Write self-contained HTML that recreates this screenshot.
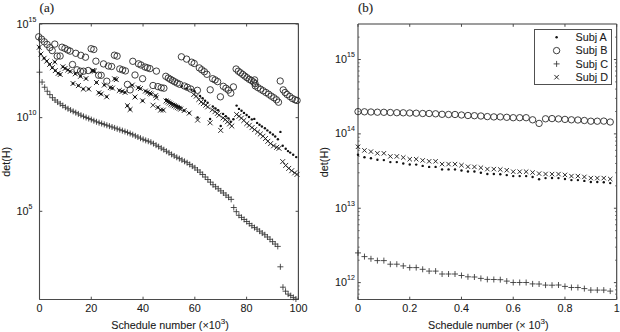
<!DOCTYPE html>
<html><head><meta charset="utf-8"><style>
html,body{margin:0;padding:0;background:#fff;}
svg{display:block;}
.t{font-family:"Liberation Sans",sans-serif;font-size:10.8px;fill:#1a1a1a;stroke:#1a1a1a;stroke-width:0.08px;}
.s{font-size:7px;}
.s2{font-size:8px;}
.p{font-family:"Liberation Serif",serif;font-size:13px;fill:#1a1a1a;stroke:#1a1a1a;stroke-width:0.12px;}
</style></head><body>
<svg width="620" height="332" viewBox="0 0 620 332">
<line x1="39.5" y1="23.7" x2="39.5" y2="299.5" stroke="#4a4a4a" stroke-width="1.1"/>
<line x1="39.5" y1="299.5" x2="298.4" y2="299.5" stroke="#4a4a4a" stroke-width="1.1"/>
<line x1="39.5" y1="23.7" x2="298.4" y2="23.7" stroke="#454545" stroke-width="1.2"/>
<line x1="298.4" y1="23.7" x2="298.4" y2="299.5" stroke="#454545" stroke-width="1.15"/>
<line x1="358.0" y1="24.0" x2="358.0" y2="299.5" stroke="#3c3c3c" stroke-width="1.05"/>
<line x1="358.0" y1="299.5" x2="616.7" y2="299.5" stroke="#4a4a4a" stroke-width="1.1"/>
<line x1="358.0" y1="24.0" x2="616.7" y2="24.0" stroke="#3c3c3c" stroke-width="1.05"/>
<line x1="616.7" y1="24.0" x2="616.7" y2="299.5" stroke="#3c3c3c" stroke-width="1.1"/>
<line x1="39.50" y1="299.5" x2="39.50" y2="296.7" stroke="#4a4a4a"/>
<line x1="39.50" y1="23.7" x2="39.50" y2="26.5" stroke="#4a4a4a"/>
<text x="39.50" y="311.5" class="t" text-anchor="middle">0</text>
<line x1="91.28" y1="299.5" x2="91.28" y2="296.7" stroke="#4a4a4a"/>
<line x1="91.28" y1="23.7" x2="91.28" y2="26.5" stroke="#4a4a4a"/>
<text x="91.28" y="311.5" class="t" text-anchor="middle">20</text>
<line x1="143.06" y1="299.5" x2="143.06" y2="296.7" stroke="#4a4a4a"/>
<line x1="143.06" y1="23.7" x2="143.06" y2="26.5" stroke="#4a4a4a"/>
<text x="143.06" y="311.5" class="t" text-anchor="middle">40</text>
<line x1="194.84" y1="299.5" x2="194.84" y2="296.7" stroke="#4a4a4a"/>
<line x1="194.84" y1="23.7" x2="194.84" y2="26.5" stroke="#4a4a4a"/>
<text x="194.84" y="311.5" class="t" text-anchor="middle">60</text>
<line x1="246.62" y1="299.5" x2="246.62" y2="296.7" stroke="#4a4a4a"/>
<line x1="246.62" y1="23.7" x2="246.62" y2="26.5" stroke="#4a4a4a"/>
<text x="246.62" y="311.5" class="t" text-anchor="middle">80</text>
<line x1="298.40" y1="299.5" x2="298.40" y2="296.7" stroke="#4a4a4a"/>
<line x1="298.40" y1="23.7" x2="298.40" y2="26.5" stroke="#4a4a4a"/>
<text x="298.40" y="311.5" class="t" text-anchor="middle">100</text>
<line x1="39.5" y1="24.00" x2="42.3" y2="24.00" stroke="#4a4a4a"/>
<line x1="298.4" y1="24.00" x2="295.59999999999997" y2="24.00" stroke="#4a4a4a"/>
<text x="16.6" y="27.60" class="t">10<tspan class="s" dy="-6">15</tspan></text>
<line x1="39.5" y1="117.65" x2="42.3" y2="117.65" stroke="#4a4a4a"/>
<line x1="298.4" y1="117.65" x2="295.59999999999997" y2="117.65" stroke="#4a4a4a"/>
<text x="16.6" y="121.25" class="t">10<tspan class="s" dy="-6">10</tspan></text>
<line x1="39.5" y1="211.30" x2="42.3" y2="211.30" stroke="#4a4a4a"/>
<line x1="298.4" y1="211.30" x2="295.59999999999997" y2="211.30" stroke="#4a4a4a"/>
<text x="16.6" y="214.90" class="t">10<tspan class="s" dy="-6">5</tspan></text>
<line x1="358.00" y1="299.5" x2="358.00" y2="296.7" stroke="#4a4a4a"/>
<line x1="358.00" y1="24.0" x2="358.00" y2="26.8" stroke="#4a4a4a"/>
<text x="358.00" y="311.5" class="t" text-anchor="middle">0</text>
<line x1="409.74" y1="299.5" x2="409.74" y2="296.7" stroke="#4a4a4a"/>
<line x1="409.74" y1="24.0" x2="409.74" y2="26.8" stroke="#4a4a4a"/>
<text x="409.74" y="311.5" class="t" text-anchor="middle">0.2</text>
<line x1="461.48" y1="299.5" x2="461.48" y2="296.7" stroke="#4a4a4a"/>
<line x1="461.48" y1="24.0" x2="461.48" y2="26.8" stroke="#4a4a4a"/>
<text x="461.48" y="311.5" class="t" text-anchor="middle">0.4</text>
<line x1="513.22" y1="299.5" x2="513.22" y2="296.7" stroke="#4a4a4a"/>
<line x1="513.22" y1="24.0" x2="513.22" y2="26.8" stroke="#4a4a4a"/>
<text x="513.22" y="311.5" class="t" text-anchor="middle">0.6</text>
<line x1="564.96" y1="299.5" x2="564.96" y2="296.7" stroke="#4a4a4a"/>
<line x1="564.96" y1="24.0" x2="564.96" y2="26.8" stroke="#4a4a4a"/>
<text x="564.96" y="311.5" class="t" text-anchor="middle">0.8</text>
<line x1="616.70" y1="299.5" x2="616.70" y2="296.7" stroke="#4a4a4a"/>
<line x1="616.70" y1="24.0" x2="616.70" y2="26.8" stroke="#4a4a4a"/>
<text x="616.70" y="311.5" class="t" text-anchor="middle">1</text>
<line x1="358.0" y1="59.50" x2="360.8" y2="59.50" stroke="#4a4a4a"/>
<line x1="616.7" y1="59.50" x2="613.9000000000001" y2="59.50" stroke="#4a4a4a"/>
<text x="335.0" y="63.10" class="t">10<tspan class="s" dy="-6">15</tspan></text>
<line x1="358.0" y1="133.87" x2="360.8" y2="133.87" stroke="#4a4a4a"/>
<line x1="616.7" y1="133.87" x2="613.9000000000001" y2="133.87" stroke="#4a4a4a"/>
<text x="335.0" y="137.47" class="t">10<tspan class="s" dy="-6">14</tspan></text>
<line x1="358.0" y1="208.24" x2="360.8" y2="208.24" stroke="#4a4a4a"/>
<line x1="616.7" y1="208.24" x2="613.9000000000001" y2="208.24" stroke="#4a4a4a"/>
<text x="335.0" y="211.84" class="t">10<tspan class="s" dy="-6">13</tspan></text>
<line x1="358.0" y1="282.61" x2="360.8" y2="282.61" stroke="#4a4a4a"/>
<line x1="616.7" y1="282.61" x2="613.9000000000001" y2="282.61" stroke="#4a4a4a"/>
<text x="335.0" y="286.21" class="t">10<tspan class="s" dy="-6">12</tspan></text>
<line x1="358.0" y1="294.13" x2="359.6" y2="294.13" stroke="#4a4a4a" stroke-width="0.8"/>
<line x1="616.7" y1="294.13" x2="615.1" y2="294.13" stroke="#4a4a4a" stroke-width="0.8"/>
<line x1="358.0" y1="289.82" x2="359.6" y2="289.82" stroke="#4a4a4a" stroke-width="0.8"/>
<line x1="616.7" y1="289.82" x2="615.1" y2="289.82" stroke="#4a4a4a" stroke-width="0.8"/>
<line x1="358.0" y1="286.01" x2="359.6" y2="286.01" stroke="#4a4a4a" stroke-width="0.8"/>
<line x1="616.7" y1="286.01" x2="615.1" y2="286.01" stroke="#4a4a4a" stroke-width="0.8"/>
<line x1="358.0" y1="260.22" x2="359.6" y2="260.22" stroke="#4a4a4a" stroke-width="0.8"/>
<line x1="616.7" y1="260.22" x2="615.1" y2="260.22" stroke="#4a4a4a" stroke-width="0.8"/>
<line x1="358.0" y1="247.13" x2="359.6" y2="247.13" stroke="#4a4a4a" stroke-width="0.8"/>
<line x1="616.7" y1="247.13" x2="615.1" y2="247.13" stroke="#4a4a4a" stroke-width="0.8"/>
<line x1="358.0" y1="237.83" x2="359.6" y2="237.83" stroke="#4a4a4a" stroke-width="0.8"/>
<line x1="616.7" y1="237.83" x2="615.1" y2="237.83" stroke="#4a4a4a" stroke-width="0.8"/>
<line x1="358.0" y1="230.63" x2="359.6" y2="230.63" stroke="#4a4a4a" stroke-width="0.8"/>
<line x1="616.7" y1="230.63" x2="615.1" y2="230.63" stroke="#4a4a4a" stroke-width="0.8"/>
<line x1="358.0" y1="224.74" x2="359.6" y2="224.74" stroke="#4a4a4a" stroke-width="0.8"/>
<line x1="616.7" y1="224.74" x2="615.1" y2="224.74" stroke="#4a4a4a" stroke-width="0.8"/>
<line x1="358.0" y1="219.76" x2="359.6" y2="219.76" stroke="#4a4a4a" stroke-width="0.8"/>
<line x1="616.7" y1="219.76" x2="615.1" y2="219.76" stroke="#4a4a4a" stroke-width="0.8"/>
<line x1="358.0" y1="215.45" x2="359.6" y2="215.45" stroke="#4a4a4a" stroke-width="0.8"/>
<line x1="616.7" y1="215.45" x2="615.1" y2="215.45" stroke="#4a4a4a" stroke-width="0.8"/>
<line x1="358.0" y1="211.64" x2="359.6" y2="211.64" stroke="#4a4a4a" stroke-width="0.8"/>
<line x1="616.7" y1="211.64" x2="615.1" y2="211.64" stroke="#4a4a4a" stroke-width="0.8"/>
<line x1="358.0" y1="185.85" x2="359.6" y2="185.85" stroke="#4a4a4a" stroke-width="0.8"/>
<line x1="616.7" y1="185.85" x2="615.1" y2="185.85" stroke="#4a4a4a" stroke-width="0.8"/>
<line x1="358.0" y1="172.76" x2="359.6" y2="172.76" stroke="#4a4a4a" stroke-width="0.8"/>
<line x1="616.7" y1="172.76" x2="615.1" y2="172.76" stroke="#4a4a4a" stroke-width="0.8"/>
<line x1="358.0" y1="163.46" x2="359.6" y2="163.46" stroke="#4a4a4a" stroke-width="0.8"/>
<line x1="616.7" y1="163.46" x2="615.1" y2="163.46" stroke="#4a4a4a" stroke-width="0.8"/>
<line x1="358.0" y1="156.26" x2="359.6" y2="156.26" stroke="#4a4a4a" stroke-width="0.8"/>
<line x1="616.7" y1="156.26" x2="615.1" y2="156.26" stroke="#4a4a4a" stroke-width="0.8"/>
<line x1="358.0" y1="150.37" x2="359.6" y2="150.37" stroke="#4a4a4a" stroke-width="0.8"/>
<line x1="616.7" y1="150.37" x2="615.1" y2="150.37" stroke="#4a4a4a" stroke-width="0.8"/>
<line x1="358.0" y1="145.39" x2="359.6" y2="145.39" stroke="#4a4a4a" stroke-width="0.8"/>
<line x1="616.7" y1="145.39" x2="615.1" y2="145.39" stroke="#4a4a4a" stroke-width="0.8"/>
<line x1="358.0" y1="141.08" x2="359.6" y2="141.08" stroke="#4a4a4a" stroke-width="0.8"/>
<line x1="616.7" y1="141.08" x2="615.1" y2="141.08" stroke="#4a4a4a" stroke-width="0.8"/>
<line x1="358.0" y1="137.27" x2="359.6" y2="137.27" stroke="#4a4a4a" stroke-width="0.8"/>
<line x1="616.7" y1="137.27" x2="615.1" y2="137.27" stroke="#4a4a4a" stroke-width="0.8"/>
<line x1="358.0" y1="111.48" x2="359.6" y2="111.48" stroke="#4a4a4a" stroke-width="0.8"/>
<line x1="616.7" y1="111.48" x2="615.1" y2="111.48" stroke="#4a4a4a" stroke-width="0.8"/>
<line x1="358.0" y1="98.39" x2="359.6" y2="98.39" stroke="#4a4a4a" stroke-width="0.8"/>
<line x1="616.7" y1="98.39" x2="615.1" y2="98.39" stroke="#4a4a4a" stroke-width="0.8"/>
<line x1="358.0" y1="89.09" x2="359.6" y2="89.09" stroke="#4a4a4a" stroke-width="0.8"/>
<line x1="616.7" y1="89.09" x2="615.1" y2="89.09" stroke="#4a4a4a" stroke-width="0.8"/>
<line x1="358.0" y1="81.89" x2="359.6" y2="81.89" stroke="#4a4a4a" stroke-width="0.8"/>
<line x1="616.7" y1="81.89" x2="615.1" y2="81.89" stroke="#4a4a4a" stroke-width="0.8"/>
<line x1="358.0" y1="76.00" x2="359.6" y2="76.00" stroke="#4a4a4a" stroke-width="0.8"/>
<line x1="616.7" y1="76.00" x2="615.1" y2="76.00" stroke="#4a4a4a" stroke-width="0.8"/>
<line x1="358.0" y1="71.02" x2="359.6" y2="71.02" stroke="#4a4a4a" stroke-width="0.8"/>
<line x1="616.7" y1="71.02" x2="615.1" y2="71.02" stroke="#4a4a4a" stroke-width="0.8"/>
<line x1="358.0" y1="66.71" x2="359.6" y2="66.71" stroke="#4a4a4a" stroke-width="0.8"/>
<line x1="616.7" y1="66.71" x2="615.1" y2="66.71" stroke="#4a4a4a" stroke-width="0.8"/>
<line x1="358.0" y1="62.90" x2="359.6" y2="62.90" stroke="#4a4a4a" stroke-width="0.8"/>
<line x1="616.7" y1="62.90" x2="615.1" y2="62.90" stroke="#4a4a4a" stroke-width="0.8"/>
<line x1="358.0" y1="37.11" x2="359.6" y2="37.11" stroke="#4a4a4a" stroke-width="0.8"/>
<line x1="616.7" y1="37.11" x2="615.1" y2="37.11" stroke="#4a4a4a" stroke-width="0.8"/>
<text x="39.6" y="11.6" class="p">(a)</text>
<text x="358.0" y="12.2" class="p">(b)</text>
<text transform="translate(10.3,161.8) rotate(-90)" class="t" text-anchor="middle">det(H)</text>
<text transform="translate(328.2,162.2) rotate(-90)" class="t" text-anchor="middle">det(H)</text>
<text x="111.2" y="328.8" class="t">Schedule number (&#215;10<tspan class="s2" dy="-4.6">3</tspan><tspan dy="4.6">)</tspan></text>
<text x="428.0" y="328.8" class="t">Schedule number (&#215; 10<tspan class="s2" dy="-4.6">3</tspan><tspan dy="4.6">)</tspan></text>
<circle cx="358.00" cy="111.60" r="3.2" fill="none" stroke="#2a2a2a" stroke-width="0.9"/>
<circle cx="364.47" cy="111.80" r="3.2" fill="none" stroke="#2a2a2a" stroke-width="0.9"/>
<circle cx="370.94" cy="112.00" r="3.2" fill="none" stroke="#2a2a2a" stroke-width="0.9"/>
<circle cx="377.40" cy="112.20" r="3.2" fill="none" stroke="#2a2a2a" stroke-width="0.9"/>
<circle cx="383.87" cy="112.30" r="3.2" fill="none" stroke="#2a2a2a" stroke-width="0.9"/>
<circle cx="390.34" cy="112.50" r="3.2" fill="none" stroke="#2a2a2a" stroke-width="0.9"/>
<circle cx="396.81" cy="112.70" r="3.2" fill="none" stroke="#2a2a2a" stroke-width="0.9"/>
<circle cx="403.27" cy="112.80" r="3.2" fill="none" stroke="#2a2a2a" stroke-width="0.9"/>
<circle cx="409.74" cy="113.00" r="3.2" fill="none" stroke="#2a2a2a" stroke-width="0.9"/>
<circle cx="416.21" cy="113.20" r="3.2" fill="none" stroke="#2a2a2a" stroke-width="0.9"/>
<circle cx="422.68" cy="113.50" r="3.2" fill="none" stroke="#2a2a2a" stroke-width="0.9"/>
<circle cx="429.14" cy="113.50" r="3.2" fill="none" stroke="#2a2a2a" stroke-width="0.9"/>
<circle cx="435.61" cy="113.80" r="3.2" fill="none" stroke="#2a2a2a" stroke-width="0.9"/>
<circle cx="442.08" cy="114.30" r="3.2" fill="none" stroke="#2a2a2a" stroke-width="0.9"/>
<circle cx="448.55" cy="114.50" r="3.2" fill="none" stroke="#2a2a2a" stroke-width="0.9"/>
<circle cx="455.01" cy="114.50" r="3.2" fill="none" stroke="#2a2a2a" stroke-width="0.9"/>
<circle cx="461.48" cy="115.00" r="3.2" fill="none" stroke="#2a2a2a" stroke-width="0.9"/>
<circle cx="467.95" cy="115.50" r="3.2" fill="none" stroke="#2a2a2a" stroke-width="0.9"/>
<circle cx="474.42" cy="115.70" r="3.2" fill="none" stroke="#2a2a2a" stroke-width="0.9"/>
<circle cx="480.88" cy="116.00" r="3.2" fill="none" stroke="#2a2a2a" stroke-width="0.9"/>
<circle cx="487.35" cy="116.60" r="3.2" fill="none" stroke="#2a2a2a" stroke-width="0.9"/>
<circle cx="493.82" cy="116.90" r="3.2" fill="none" stroke="#2a2a2a" stroke-width="0.9"/>
<circle cx="500.29" cy="116.90" r="3.2" fill="none" stroke="#2a2a2a" stroke-width="0.9"/>
<circle cx="506.75" cy="117.30" r="3.2" fill="none" stroke="#2a2a2a" stroke-width="0.9"/>
<circle cx="513.22" cy="117.70" r="3.2" fill="none" stroke="#2a2a2a" stroke-width="0.9"/>
<circle cx="519.69" cy="117.70" r="3.2" fill="none" stroke="#2a2a2a" stroke-width="0.9"/>
<circle cx="526.15" cy="117.70" r="3.2" fill="none" stroke="#2a2a2a" stroke-width="0.9"/>
<circle cx="532.62" cy="119.80" r="3.2" fill="none" stroke="#2a2a2a" stroke-width="0.9"/>
<circle cx="539.09" cy="123.40" r="3.2" fill="none" stroke="#2a2a2a" stroke-width="0.9"/>
<circle cx="545.56" cy="118.80" r="3.2" fill="none" stroke="#2a2a2a" stroke-width="0.9"/>
<circle cx="552.03" cy="118.60" r="3.2" fill="none" stroke="#2a2a2a" stroke-width="0.9"/>
<circle cx="558.49" cy="118.90" r="3.2" fill="none" stroke="#2a2a2a" stroke-width="0.9"/>
<circle cx="564.96" cy="119.40" r="3.2" fill="none" stroke="#2a2a2a" stroke-width="0.9"/>
<circle cx="571.43" cy="119.80" r="3.2" fill="none" stroke="#2a2a2a" stroke-width="0.9"/>
<circle cx="577.90" cy="120.00" r="3.2" fill="none" stroke="#2a2a2a" stroke-width="0.9"/>
<circle cx="584.36" cy="120.50" r="3.2" fill="none" stroke="#2a2a2a" stroke-width="0.9"/>
<circle cx="590.83" cy="121.20" r="3.2" fill="none" stroke="#2a2a2a" stroke-width="0.9"/>
<circle cx="597.30" cy="121.20" r="3.2" fill="none" stroke="#2a2a2a" stroke-width="0.9"/>
<circle cx="603.77" cy="121.10" r="3.2" fill="none" stroke="#2a2a2a" stroke-width="0.9"/>
<circle cx="610.23" cy="122.00" r="3.2" fill="none" stroke="#2a2a2a" stroke-width="0.9"/>
<path d="M355.80 144.60L360.20 149.00M355.80 149.00L360.20 144.60" stroke="#1a1a1a" stroke-width="0.92"/>
<path d="M362.27 148.20L366.67 152.60M362.27 152.60L366.67 148.20" stroke="#1a1a1a" stroke-width="0.92"/>
<path d="M368.74 149.40L373.13 153.80M368.74 153.80L373.13 149.40" stroke="#1a1a1a" stroke-width="0.92"/>
<path d="M375.20 151.10L379.60 155.50M375.20 155.50L379.60 151.10" stroke="#1a1a1a" stroke-width="0.92"/>
<path d="M381.67 151.10L386.07 155.50M381.67 155.50L386.07 151.10" stroke="#1a1a1a" stroke-width="0.92"/>
<path d="M388.14 154.20L392.54 158.60M388.14 158.60L392.54 154.20" stroke="#1a1a1a" stroke-width="0.92"/>
<path d="M394.61 154.20L399.00 158.60M394.61 158.60L399.00 154.20" stroke="#1a1a1a" stroke-width="0.92"/>
<path d="M401.07 155.30L405.47 159.70M401.07 159.70L405.47 155.30" stroke="#1a1a1a" stroke-width="0.92"/>
<path d="M407.54 157.00L411.94 161.40M407.54 161.40L411.94 157.00" stroke="#1a1a1a" stroke-width="0.92"/>
<path d="M414.01 157.00L418.41 161.40M414.01 161.40L418.41 157.00" stroke="#1a1a1a" stroke-width="0.92"/>
<path d="M420.48 158.20L424.88 162.60M420.48 162.60L424.88 158.20" stroke="#1a1a1a" stroke-width="0.92"/>
<path d="M426.94 159.10L431.34 163.50M426.94 163.50L431.34 159.10" stroke="#1a1a1a" stroke-width="0.92"/>
<path d="M433.41 159.10L437.81 163.50M433.41 163.50L437.81 159.10" stroke="#1a1a1a" stroke-width="0.92"/>
<path d="M439.88 161.90L444.28 166.30M439.88 166.30L444.28 161.90" stroke="#1a1a1a" stroke-width="0.92"/>
<path d="M446.35 161.90L450.75 166.30M446.35 166.30L450.75 161.90" stroke="#1a1a1a" stroke-width="0.92"/>
<path d="M452.81 161.90L457.21 166.30M452.81 166.30L457.21 161.90" stroke="#1a1a1a" stroke-width="0.92"/>
<path d="M459.28 163.00L463.68 167.40M459.28 167.40L463.68 163.00" stroke="#1a1a1a" stroke-width="0.92"/>
<path d="M465.75 164.50L470.15 168.90M465.75 168.90L470.15 164.50" stroke="#1a1a1a" stroke-width="0.92"/>
<path d="M472.22 164.70L476.62 169.10M472.22 169.10L476.62 164.70" stroke="#1a1a1a" stroke-width="0.92"/>
<path d="M478.68 165.50L483.08 169.90M478.68 169.90L483.08 165.50" stroke="#1a1a1a" stroke-width="0.92"/>
<path d="M485.15 166.90L489.55 171.30M485.15 171.30L489.55 166.90" stroke="#1a1a1a" stroke-width="0.92"/>
<path d="M491.62 166.90L496.02 171.30M491.62 171.30L496.02 166.90" stroke="#1a1a1a" stroke-width="0.92"/>
<path d="M498.09 167.30L502.49 171.70M498.09 171.70L502.49 167.30" stroke="#1a1a1a" stroke-width="0.92"/>
<path d="M504.55 168.00L508.95 172.40M504.55 172.40L508.95 168.00" stroke="#1a1a1a" stroke-width="0.92"/>
<path d="M511.02 169.50L515.42 173.90M511.02 173.90L515.42 169.50" stroke="#1a1a1a" stroke-width="0.92"/>
<path d="M517.49 169.50L521.89 173.90M517.49 173.90L521.89 169.50" stroke="#1a1a1a" stroke-width="0.92"/>
<path d="M523.95 169.50L528.36 173.90M523.95 173.90L528.36 169.50" stroke="#1a1a1a" stroke-width="0.92"/>
<path d="M530.42 170.30L534.82 174.70M530.42 174.70L534.82 170.30" stroke="#1a1a1a" stroke-width="0.92"/>
<path d="M536.89 171.40L541.29 175.80M536.89 175.80L541.29 171.40" stroke="#1a1a1a" stroke-width="0.92"/>
<path d="M543.36 171.80L547.76 176.20M543.36 176.20L547.76 171.80" stroke="#1a1a1a" stroke-width="0.92"/>
<path d="M549.83 171.90L554.23 176.30M549.83 176.30L554.23 171.90" stroke="#1a1a1a" stroke-width="0.92"/>
<path d="M556.29 171.90L560.69 176.30M556.29 176.30L560.69 171.90" stroke="#1a1a1a" stroke-width="0.92"/>
<path d="M562.76 172.70L567.16 177.10M562.76 177.10L567.16 172.70" stroke="#1a1a1a" stroke-width="0.92"/>
<path d="M569.23 173.90L573.63 178.30M569.23 178.30L573.63 173.90" stroke="#1a1a1a" stroke-width="0.92"/>
<path d="M575.70 173.90L580.10 178.30M575.70 178.30L580.10 173.90" stroke="#1a1a1a" stroke-width="0.92"/>
<path d="M582.16 174.70L586.56 179.10M582.16 179.10L586.56 174.70" stroke="#1a1a1a" stroke-width="0.92"/>
<path d="M588.63 175.90L593.03 180.30M588.63 180.30L593.03 175.90" stroke="#1a1a1a" stroke-width="0.92"/>
<path d="M595.10 175.90L599.50 180.30M595.10 180.30L599.50 175.90" stroke="#1a1a1a" stroke-width="0.92"/>
<path d="M601.57 175.90L605.97 180.30M601.57 180.30L605.97 175.90" stroke="#1a1a1a" stroke-width="0.92"/>
<path d="M608.03 176.80L612.43 181.20M608.03 181.20L612.43 176.80" stroke="#1a1a1a" stroke-width="0.92"/>
<circle cx="358.00" cy="154.70" r="1.22" fill="#111"/>
<circle cx="364.47" cy="157.30" r="1.22" fill="#111"/>
<circle cx="370.94" cy="158.30" r="1.22" fill="#111"/>
<circle cx="377.40" cy="159.80" r="1.22" fill="#111"/>
<circle cx="383.87" cy="160.10" r="1.22" fill="#111"/>
<circle cx="390.34" cy="162.10" r="1.22" fill="#111"/>
<circle cx="396.81" cy="162.10" r="1.22" fill="#111"/>
<circle cx="403.27" cy="163.50" r="1.22" fill="#111"/>
<circle cx="409.74" cy="164.50" r="1.22" fill="#111"/>
<circle cx="416.21" cy="164.60" r="1.22" fill="#111"/>
<circle cx="422.68" cy="165.90" r="1.22" fill="#111"/>
<circle cx="429.14" cy="166.90" r="1.22" fill="#111"/>
<circle cx="435.61" cy="166.90" r="1.22" fill="#111"/>
<circle cx="442.08" cy="169.40" r="1.22" fill="#111"/>
<circle cx="448.55" cy="169.40" r="1.22" fill="#111"/>
<circle cx="455.01" cy="169.40" r="1.22" fill="#111"/>
<circle cx="461.48" cy="170.50" r="1.22" fill="#111"/>
<circle cx="467.95" cy="171.50" r="1.22" fill="#111"/>
<circle cx="474.42" cy="171.50" r="1.22" fill="#111"/>
<circle cx="480.88" cy="172.80" r="1.22" fill="#111"/>
<circle cx="487.35" cy="174.00" r="1.22" fill="#111"/>
<circle cx="493.82" cy="174.00" r="1.22" fill="#111"/>
<circle cx="500.29" cy="174.20" r="1.22" fill="#111"/>
<circle cx="506.75" cy="175.10" r="1.22" fill="#111"/>
<circle cx="513.22" cy="176.10" r="1.22" fill="#111"/>
<circle cx="519.69" cy="176.10" r="1.22" fill="#111"/>
<circle cx="526.15" cy="176.10" r="1.22" fill="#111"/>
<circle cx="532.62" cy="177.00" r="1.22" fill="#111"/>
<circle cx="539.09" cy="179.30" r="1.22" fill="#111"/>
<circle cx="545.56" cy="178.10" r="1.22" fill="#111"/>
<circle cx="552.03" cy="178.00" r="1.22" fill="#111"/>
<circle cx="558.49" cy="178.10" r="1.22" fill="#111"/>
<circle cx="564.96" cy="179.00" r="1.22" fill="#111"/>
<circle cx="571.43" cy="180.10" r="1.22" fill="#111"/>
<circle cx="577.90" cy="180.10" r="1.22" fill="#111"/>
<circle cx="584.36" cy="180.90" r="1.22" fill="#111"/>
<circle cx="590.83" cy="182.00" r="1.22" fill="#111"/>
<circle cx="597.30" cy="182.00" r="1.22" fill="#111"/>
<circle cx="603.77" cy="182.20" r="1.22" fill="#111"/>
<circle cx="610.23" cy="183.10" r="1.22" fill="#111"/>
<path d="M355.00 252.90H361.00M358.00 249.90V255.90" stroke="#333" stroke-width="0.85"/>
<path d="M361.47 256.60H367.47M364.47 253.60V259.60" stroke="#333" stroke-width="0.85"/>
<path d="M367.94 258.80H373.94M370.94 255.80V261.80" stroke="#333" stroke-width="0.85"/>
<path d="M374.40 260.60H380.40M377.40 257.60V263.60" stroke="#333" stroke-width="0.85"/>
<path d="M380.87 260.60H386.87M383.87 257.60V263.60" stroke="#333" stroke-width="0.85"/>
<path d="M387.34 264.20H393.34M390.34 261.20V267.20" stroke="#333" stroke-width="0.85"/>
<path d="M393.81 264.20H399.81M396.81 261.20V267.20" stroke="#333" stroke-width="0.85"/>
<path d="M400.27 265.90H406.27M403.27 262.90V268.90" stroke="#333" stroke-width="0.85"/>
<path d="M406.74 267.60H412.74M409.74 264.60V270.60" stroke="#333" stroke-width="0.85"/>
<path d="M413.21 267.60H419.21M416.21 264.60V270.60" stroke="#333" stroke-width="0.85"/>
<path d="M419.68 269.30H425.68M422.68 266.30V272.30" stroke="#333" stroke-width="0.85"/>
<path d="M426.14 271.10H432.14M429.14 268.10V274.10" stroke="#333" stroke-width="0.85"/>
<path d="M432.61 271.10H438.61M435.61 268.10V274.10" stroke="#333" stroke-width="0.85"/>
<path d="M439.08 274.00H445.08M442.08 271.00V277.00" stroke="#333" stroke-width="0.85"/>
<path d="M445.55 274.00H451.55M448.55 271.00V277.00" stroke="#333" stroke-width="0.85"/>
<path d="M452.01 274.00H458.01M455.01 271.00V277.00" stroke="#333" stroke-width="0.85"/>
<path d="M458.48 275.50H464.48M461.48 272.50V278.50" stroke="#333" stroke-width="0.85"/>
<path d="M464.95 276.80H470.95M467.95 273.80V279.80" stroke="#333" stroke-width="0.85"/>
<path d="M471.42 277.00H477.42M474.42 274.00V280.00" stroke="#333" stroke-width="0.85"/>
<path d="M477.88 278.40H483.88M480.88 275.40V281.40" stroke="#333" stroke-width="0.85"/>
<path d="M484.35 279.40H490.35M487.35 276.40V282.40" stroke="#333" stroke-width="0.85"/>
<path d="M490.82 279.50H496.82M493.82 276.50V282.50" stroke="#333" stroke-width="0.85"/>
<path d="M497.29 279.70H503.29M500.29 276.70V282.70" stroke="#333" stroke-width="0.85"/>
<path d="M503.75 281.10H509.75M506.75 278.10V284.10" stroke="#333" stroke-width="0.85"/>
<path d="M510.22 282.50H516.22M513.22 279.50V285.50" stroke="#333" stroke-width="0.85"/>
<path d="M516.69 282.50H522.69M519.69 279.50V285.50" stroke="#333" stroke-width="0.85"/>
<path d="M523.15 282.50H529.15M526.15 279.50V285.50" stroke="#333" stroke-width="0.85"/>
<path d="M529.62 283.90H535.62M532.62 280.90V286.90" stroke="#333" stroke-width="0.85"/>
<path d="M536.09 284.00H542.09M539.09 281.00V287.00" stroke="#333" stroke-width="0.85"/>
<path d="M542.56 285.10H548.56M545.56 282.10V288.10" stroke="#333" stroke-width="0.85"/>
<path d="M549.03 285.20H555.03M552.03 282.20V288.20" stroke="#333" stroke-width="0.85"/>
<path d="M555.49 285.00H561.49M558.49 282.00V288.00" stroke="#333" stroke-width="0.85"/>
<path d="M561.96 286.40H567.96M564.96 283.40V289.40" stroke="#333" stroke-width="0.85"/>
<path d="M568.43 287.50H574.43M571.43 284.50V290.50" stroke="#333" stroke-width="0.85"/>
<path d="M574.90 287.50H580.90M577.90 284.50V290.50" stroke="#333" stroke-width="0.85"/>
<path d="M581.36 288.60H587.36M584.36 285.60V291.60" stroke="#333" stroke-width="0.85"/>
<path d="M587.83 290.10H593.83M590.83 287.10V293.10" stroke="#333" stroke-width="0.85"/>
<path d="M594.30 290.10H600.30M597.30 287.10V293.10" stroke="#333" stroke-width="0.85"/>
<path d="M600.77 290.10H606.77M603.77 287.10V293.10" stroke="#333" stroke-width="0.85"/>
<path d="M607.23 291.10H613.23M610.23 288.10V294.10" stroke="#333" stroke-width="0.85"/>
<circle cx="38.70" cy="36.80" r="3.2" fill="none" stroke="#2a2a2a" stroke-width="0.9"/>
<circle cx="41.50" cy="39.10" r="3.2" fill="none" stroke="#2a2a2a" stroke-width="0.9"/>
<circle cx="44.30" cy="41.80" r="3.2" fill="none" stroke="#2a2a2a" stroke-width="0.9"/>
<circle cx="47.10" cy="44.40" r="3.2" fill="none" stroke="#2a2a2a" stroke-width="0.9"/>
<circle cx="49.80" cy="47.60" r="3.2" fill="none" stroke="#2a2a2a" stroke-width="0.9"/>
<circle cx="52.20" cy="50.60" r="3.2" fill="none" stroke="#2a2a2a" stroke-width="0.9"/>
<circle cx="54.80" cy="44.10" r="3.2" fill="none" stroke="#2a2a2a" stroke-width="0.9"/>
<circle cx="57.20" cy="56.10" r="3.2" fill="none" stroke="#2a2a2a" stroke-width="0.9"/>
<circle cx="60.10" cy="56.00" r="3.2" fill="none" stroke="#2a2a2a" stroke-width="0.9"/>
<circle cx="62.00" cy="47.20" r="3.2" fill="none" stroke="#2a2a2a" stroke-width="0.9"/>
<circle cx="64.90" cy="48.40" r="3.2" fill="none" stroke="#2a2a2a" stroke-width="0.9"/>
<circle cx="67.70" cy="50.00" r="3.2" fill="none" stroke="#2a2a2a" stroke-width="0.9"/>
<circle cx="70.10" cy="51.10" r="3.2" fill="none" stroke="#2a2a2a" stroke-width="0.9"/>
<circle cx="75.80" cy="53.30" r="3.2" fill="none" stroke="#2a2a2a" stroke-width="0.9"/>
<circle cx="80.80" cy="55.30" r="3.2" fill="none" stroke="#2a2a2a" stroke-width="0.9"/>
<circle cx="85.50" cy="57.20" r="3.2" fill="none" stroke="#2a2a2a" stroke-width="0.9"/>
<circle cx="72.50" cy="64.50" r="3.2" fill="none" stroke="#2a2a2a" stroke-width="0.9"/>
<circle cx="77.00" cy="69.80" r="3.2" fill="none" stroke="#2a2a2a" stroke-width="0.9"/>
<circle cx="80.50" cy="71.20" r="3.2" fill="none" stroke="#2a2a2a" stroke-width="0.9"/>
<circle cx="83.50" cy="71.20" r="3.2" fill="none" stroke="#2a2a2a" stroke-width="0.9"/>
<circle cx="88.20" cy="70.50" r="3.2" fill="none" stroke="#2a2a2a" stroke-width="0.9"/>
<circle cx="91.10" cy="48.70" r="3.2" fill="none" stroke="#2a2a2a" stroke-width="0.9"/>
<circle cx="93.80" cy="49.50" r="3.2" fill="none" stroke="#2a2a2a" stroke-width="0.9"/>
<circle cx="95.90" cy="61.20" r="3.2" fill="none" stroke="#2a2a2a" stroke-width="0.9"/>
<circle cx="103.50" cy="63.90" r="3.2" fill="none" stroke="#2a2a2a" stroke-width="0.9"/>
<circle cx="108.40" cy="66.00" r="3.2" fill="none" stroke="#2a2a2a" stroke-width="0.9"/>
<circle cx="111.60" cy="66.50" r="3.2" fill="none" stroke="#2a2a2a" stroke-width="0.9"/>
<circle cx="114.40" cy="55.20" r="3.2" fill="none" stroke="#2a2a2a" stroke-width="0.9"/>
<circle cx="117.10" cy="56.10" r="3.2" fill="none" stroke="#2a2a2a" stroke-width="0.9"/>
<circle cx="119.80" cy="68.90" r="3.2" fill="none" stroke="#2a2a2a" stroke-width="0.9"/>
<circle cx="122.60" cy="69.90" r="3.2" fill="none" stroke="#2a2a2a" stroke-width="0.9"/>
<circle cx="125.40" cy="70.90" r="3.2" fill="none" stroke="#2a2a2a" stroke-width="0.9"/>
<circle cx="132.80" cy="61.30" r="3.2" fill="none" stroke="#2a2a2a" stroke-width="0.9"/>
<circle cx="138.50" cy="63.80" r="3.2" fill="none" stroke="#2a2a2a" stroke-width="0.9"/>
<circle cx="141.00" cy="65.00" r="3.2" fill="none" stroke="#2a2a2a" stroke-width="0.9"/>
<circle cx="145.00" cy="67.00" r="3.2" fill="none" stroke="#2a2a2a" stroke-width="0.9"/>
<circle cx="147.40" cy="67.80" r="3.2" fill="none" stroke="#2a2a2a" stroke-width="0.9"/>
<circle cx="149.90" cy="68.60" r="3.2" fill="none" stroke="#2a2a2a" stroke-width="0.9"/>
<circle cx="156.40" cy="71.10" r="3.2" fill="none" stroke="#2a2a2a" stroke-width="0.9"/>
<circle cx="98.60" cy="75.20" r="3.2" fill="none" stroke="#2a2a2a" stroke-width="0.9"/>
<circle cx="101.20" cy="75.30" r="3.2" fill="none" stroke="#2a2a2a" stroke-width="0.9"/>
<circle cx="106.80" cy="81.20" r="3.2" fill="none" stroke="#2a2a2a" stroke-width="0.9"/>
<circle cx="135.00" cy="75.00" r="3.2" fill="none" stroke="#2a2a2a" stroke-width="0.9"/>
<circle cx="127.40" cy="84.40" r="3.2" fill="none" stroke="#2a2a2a" stroke-width="0.9"/>
<circle cx="130.10" cy="89.90" r="3.2" fill="none" stroke="#2a2a2a" stroke-width="0.9"/>
<circle cx="142.60" cy="78.70" r="3.2" fill="none" stroke="#2a2a2a" stroke-width="0.9"/>
<circle cx="181.40" cy="56.80" r="3.2" fill="none" stroke="#2a2a2a" stroke-width="0.9"/>
<circle cx="186.60" cy="59.10" r="3.2" fill="none" stroke="#2a2a2a" stroke-width="0.9"/>
<circle cx="191.70" cy="62.20" r="3.2" fill="none" stroke="#2a2a2a" stroke-width="0.9"/>
<circle cx="194.20" cy="63.50" r="3.2" fill="none" stroke="#2a2a2a" stroke-width="0.9"/>
<circle cx="199.30" cy="67.90" r="3.2" fill="none" stroke="#2a2a2a" stroke-width="0.9"/>
<circle cx="201.80" cy="69.80" r="3.2" fill="none" stroke="#2a2a2a" stroke-width="0.9"/>
<circle cx="204.40" cy="71.70" r="3.2" fill="none" stroke="#2a2a2a" stroke-width="0.9"/>
<circle cx="206.90" cy="74.30" r="3.2" fill="none" stroke="#2a2a2a" stroke-width="0.9"/>
<circle cx="212.60" cy="78.70" r="3.2" fill="none" stroke="#2a2a2a" stroke-width="0.9"/>
<circle cx="215.10" cy="79.90" r="3.2" fill="none" stroke="#2a2a2a" stroke-width="0.9"/>
<circle cx="217.60" cy="81.60" r="3.2" fill="none" stroke="#2a2a2a" stroke-width="0.9"/>
<circle cx="223.30" cy="86.30" r="3.2" fill="none" stroke="#2a2a2a" stroke-width="0.9"/>
<circle cx="225.90" cy="88.20" r="3.2" fill="none" stroke="#2a2a2a" stroke-width="0.9"/>
<circle cx="228.40" cy="90.10" r="3.2" fill="none" stroke="#2a2a2a" stroke-width="0.9"/>
<circle cx="230.80" cy="93.20" r="3.2" fill="none" stroke="#2a2a2a" stroke-width="0.9"/>
<circle cx="153.00" cy="85.50" r="3.2" fill="none" stroke="#2a2a2a" stroke-width="0.9"/>
<circle cx="157.90" cy="86.60" r="3.2" fill="none" stroke="#2a2a2a" stroke-width="0.9"/>
<circle cx="161.20" cy="87.70" r="3.2" fill="none" stroke="#2a2a2a" stroke-width="0.9"/>
<circle cx="163.90" cy="88.20" r="3.2" fill="none" stroke="#2a2a2a" stroke-width="0.9"/>
<circle cx="165.80" cy="76.30" r="3.2" fill="none" stroke="#2a2a2a" stroke-width="0.9"/>
<circle cx="168.30" cy="78.00" r="3.2" fill="none" stroke="#2a2a2a" stroke-width="0.9"/>
<circle cx="170.40" cy="79.30" r="3.2" fill="none" stroke="#2a2a2a" stroke-width="0.9"/>
<circle cx="172.50" cy="80.50" r="3.2" fill="none" stroke="#2a2a2a" stroke-width="0.9"/>
<circle cx="174.70" cy="81.80" r="3.2" fill="none" stroke="#2a2a2a" stroke-width="0.9"/>
<circle cx="177.20" cy="83.10" r="3.2" fill="none" stroke="#2a2a2a" stroke-width="0.9"/>
<circle cx="179.70" cy="84.30" r="3.2" fill="none" stroke="#2a2a2a" stroke-width="0.9"/>
<circle cx="184.40" cy="86.00" r="3.2" fill="none" stroke="#2a2a2a" stroke-width="0.9"/>
<circle cx="187.30" cy="87.30" r="3.2" fill="none" stroke="#2a2a2a" stroke-width="0.9"/>
<circle cx="190.70" cy="89.00" r="3.2" fill="none" stroke="#2a2a2a" stroke-width="0.9"/>
<circle cx="197.40" cy="90.30" r="3.2" fill="none" stroke="#2a2a2a" stroke-width="0.9"/>
<circle cx="210.20" cy="89.80" r="3.2" fill="none" stroke="#2a2a2a" stroke-width="0.9"/>
<circle cx="220.40" cy="96.80" r="3.2" fill="none" stroke="#2a2a2a" stroke-width="0.9"/>
<circle cx="233.40" cy="86.90" r="3.2" fill="none" stroke="#2a2a2a" stroke-width="0.9"/>
<circle cx="236.10" cy="69.00" r="3.2" fill="none" stroke="#2a2a2a" stroke-width="0.9"/>
<circle cx="238.30" cy="71.20" r="3.2" fill="none" stroke="#2a2a2a" stroke-width="0.9"/>
<circle cx="240.50" cy="72.80" r="3.2" fill="none" stroke="#2a2a2a" stroke-width="0.9"/>
<circle cx="242.70" cy="74.40" r="3.2" fill="none" stroke="#2a2a2a" stroke-width="0.9"/>
<circle cx="244.80" cy="76.10" r="3.2" fill="none" stroke="#2a2a2a" stroke-width="0.9"/>
<circle cx="247.00" cy="77.70" r="3.2" fill="none" stroke="#2a2a2a" stroke-width="0.9"/>
<circle cx="249.20" cy="79.30" r="3.2" fill="none" stroke="#2a2a2a" stroke-width="0.9"/>
<circle cx="251.30" cy="80.40" r="3.2" fill="none" stroke="#2a2a2a" stroke-width="0.9"/>
<circle cx="253.50" cy="82.00" r="3.2" fill="none" stroke="#2a2a2a" stroke-width="0.9"/>
<circle cx="255.10" cy="83.70" r="3.2" fill="none" stroke="#2a2a2a" stroke-width="0.9"/>
<circle cx="254.60" cy="79.90" r="3.2" fill="none" stroke="#2a2a2a" stroke-width="0.9"/>
<circle cx="255.30" cy="85.90" r="3.2" fill="none" stroke="#2a2a2a" stroke-width="0.9"/>
<circle cx="257.90" cy="87.60" r="3.2" fill="none" stroke="#2a2a2a" stroke-width="0.9"/>
<circle cx="260.60" cy="89.20" r="3.2" fill="none" stroke="#2a2a2a" stroke-width="0.9"/>
<circle cx="263.20" cy="90.80" r="3.2" fill="none" stroke="#2a2a2a" stroke-width="0.9"/>
<circle cx="265.90" cy="92.50" r="3.2" fill="none" stroke="#2a2a2a" stroke-width="0.9"/>
<circle cx="268.60" cy="94.20" r="3.2" fill="none" stroke="#2a2a2a" stroke-width="0.9"/>
<circle cx="271.20" cy="96.10" r="3.2" fill="none" stroke="#2a2a2a" stroke-width="0.9"/>
<circle cx="273.90" cy="97.80" r="3.2" fill="none" stroke="#2a2a2a" stroke-width="0.9"/>
<circle cx="276.50" cy="99.80" r="3.2" fill="none" stroke="#2a2a2a" stroke-width="0.9"/>
<circle cx="278.50" cy="102.20" r="3.2" fill="none" stroke="#2a2a2a" stroke-width="0.9"/>
<circle cx="280.20" cy="81.00" r="3.2" fill="none" stroke="#2a2a2a" stroke-width="0.9"/>
<circle cx="283.20" cy="89.90" r="3.2" fill="none" stroke="#2a2a2a" stroke-width="0.9"/>
<circle cx="285.10" cy="92.50" r="3.2" fill="none" stroke="#2a2a2a" stroke-width="0.9"/>
<circle cx="287.10" cy="94.50" r="3.2" fill="none" stroke="#2a2a2a" stroke-width="0.9"/>
<circle cx="289.80" cy="96.50" r="3.2" fill="none" stroke="#2a2a2a" stroke-width="0.9"/>
<circle cx="292.40" cy="98.50" r="3.2" fill="none" stroke="#2a2a2a" stroke-width="0.9"/>
<circle cx="295.10" cy="99.80" r="3.2" fill="none" stroke="#2a2a2a" stroke-width="0.9"/>
<circle cx="297.10" cy="100.50" r="3.2" fill="none" stroke="#2a2a2a" stroke-width="0.9"/>
<path d="M36.75 44.85L41.65 49.75M36.75 49.75L41.65 44.85" stroke="#1a1a1a" stroke-width="0.92"/>
<path d="M38.45 51.65L43.35 56.55M38.45 56.55L43.35 51.65" stroke="#1a1a1a" stroke-width="0.92"/>
<path d="M41.65 55.85L46.55 60.75M41.65 60.75L46.55 55.85" stroke="#1a1a1a" stroke-width="0.92"/>
<path d="M44.35 58.65L49.25 63.55M44.35 63.55L49.25 58.65" stroke="#1a1a1a" stroke-width="0.92"/>
<path d="M47.15 61.95L52.05 66.85M47.15 66.85L52.05 61.95" stroke="#1a1a1a" stroke-width="0.92"/>
<path d="M49.85 65.25L54.75 70.15M49.85 70.15L54.75 65.25" stroke="#1a1a1a" stroke-width="0.92"/>
<path d="M52.85 68.15L57.75 73.05M52.85 73.05L57.75 68.15" stroke="#1a1a1a" stroke-width="0.92"/>
<path d="M52.35 59.55L57.25 64.45M52.35 64.45L57.25 59.55" stroke="#1a1a1a" stroke-width="0.92"/>
<path d="M55.75 70.85L60.65 75.75M55.75 75.75L60.65 70.85" stroke="#1a1a1a" stroke-width="0.92"/>
<path d="M57.75 72.05L62.65 76.95M57.75 76.95L62.65 72.05" stroke="#1a1a1a" stroke-width="0.92"/>
<path d="M60.45 64.35L65.35 69.25M60.45 69.25L65.35 64.35" stroke="#1a1a1a" stroke-width="0.92"/>
<path d="M62.65 65.95L67.55 70.85M62.65 70.85L67.55 65.95" stroke="#1a1a1a" stroke-width="0.92"/>
<path d="M65.35 67.55L70.25 72.45M65.35 72.45L70.25 67.55" stroke="#1a1a1a" stroke-width="0.92"/>
<path d="M67.75 68.95L72.65 73.85M67.75 73.85L72.65 68.95" stroke="#1a1a1a" stroke-width="0.92"/>
<path d="M72.85 71.35L77.75 76.25M72.85 76.25L77.75 71.35" stroke="#1a1a1a" stroke-width="0.92"/>
<path d="M78.05 73.85L82.95 78.75M78.05 78.75L82.95 73.85" stroke="#1a1a1a" stroke-width="0.92"/>
<path d="M83.55 76.15L88.45 81.05M83.55 81.05L88.45 76.15" stroke="#1a1a1a" stroke-width="0.92"/>
<path d="M70.55 81.05L75.45 85.95M70.55 85.95L75.45 81.05" stroke="#1a1a1a" stroke-width="0.92"/>
<path d="M75.95 83.15L80.85 88.05M75.95 88.05L80.85 83.15" stroke="#1a1a1a" stroke-width="0.92"/>
<path d="M80.85 86.55L85.75 91.45M80.85 91.45L85.75 86.55" stroke="#1a1a1a" stroke-width="0.92"/>
<path d="M86.25 86.55L91.15 91.45M86.25 91.45L91.15 86.55" stroke="#1a1a1a" stroke-width="0.92"/>
<path d="M89.95 68.15L94.85 73.05M89.95 73.05L94.85 68.15" stroke="#1a1a1a" stroke-width="0.92"/>
<path d="M90.85 68.45L95.75 73.35M90.85 73.35L95.75 68.45" stroke="#1a1a1a" stroke-width="0.92"/>
<path d="M91.85 68.75L96.75 73.65M91.85 73.65L96.75 68.75" stroke="#1a1a1a" stroke-width="0.92"/>
<path d="M94.05 80.05L98.95 84.95M94.05 84.95L98.95 80.05" stroke="#1a1a1a" stroke-width="0.92"/>
<path d="M96.35 90.35L101.25 95.25M96.35 95.25L101.25 90.35" stroke="#1a1a1a" stroke-width="0.92"/>
<path d="M98.75 91.55L103.65 96.45M98.75 96.45L103.65 91.55" stroke="#1a1a1a" stroke-width="0.92"/>
<path d="M101.85 82.65L106.75 87.55M101.85 87.55L106.75 82.65" stroke="#1a1a1a" stroke-width="0.92"/>
<path d="M104.25 94.35L109.15 99.25M104.25 99.25L109.15 94.35" stroke="#1a1a1a" stroke-width="0.92"/>
<path d="M107.85 85.15L112.75 90.05M107.85 90.05L112.75 85.15" stroke="#1a1a1a" stroke-width="0.92"/>
<path d="M110.05 85.65L114.95 90.55M110.05 90.55L114.95 85.65" stroke="#1a1a1a" stroke-width="0.92"/>
<path d="M112.15 76.35L117.05 81.25M112.15 81.25L117.05 76.35" stroke="#1a1a1a" stroke-width="0.92"/>
<path d="M113.85 77.15L118.75 82.05M113.85 82.05L118.75 77.15" stroke="#1a1a1a" stroke-width="0.92"/>
<path d="M116.85 88.05L121.75 92.95M116.85 92.95L121.75 88.05" stroke="#1a1a1a" stroke-width="0.92"/>
<path d="M119.75 88.85L124.65 93.75M119.75 93.75L124.65 88.85" stroke="#1a1a1a" stroke-width="0.92"/>
<path d="M122.65 89.95L127.55 94.85M122.65 94.85L127.55 89.95" stroke="#1a1a1a" stroke-width="0.92"/>
<path d="M124.95 103.25L129.85 108.15M124.95 108.15L129.85 103.25" stroke="#1a1a1a" stroke-width="0.92"/>
<path d="M127.65 107.05L132.55 111.95M127.65 111.95L132.55 107.05" stroke="#1a1a1a" stroke-width="0.92"/>
<path d="M129.85 82.65L134.75 87.55M129.85 87.55L134.75 82.65" stroke="#1a1a1a" stroke-width="0.92"/>
<path d="M132.55 94.55L137.45 99.45M132.55 99.45L137.45 94.55" stroke="#1a1a1a" stroke-width="0.92"/>
<path d="M135.75 85.25L140.65 90.15M135.75 90.15L140.65 85.25" stroke="#1a1a1a" stroke-width="0.92"/>
<path d="M137.95 86.15L142.85 91.05M137.95 91.05L142.85 86.15" stroke="#1a1a1a" stroke-width="0.92"/>
<path d="M140.15 98.35L145.05 103.25M140.15 103.25L145.05 98.35" stroke="#1a1a1a" stroke-width="0.92"/>
<path d="M142.95 88.65L147.85 93.55M142.95 93.55L147.85 88.65" stroke="#1a1a1a" stroke-width="0.92"/>
<path d="M145.15 89.65L150.05 94.55M145.15 94.55L150.05 89.65" stroke="#1a1a1a" stroke-width="0.92"/>
<path d="M147.35 90.75L152.25 95.65M147.35 95.65L152.25 90.75" stroke="#1a1a1a" stroke-width="0.92"/>
<path d="M148.75 91.55L153.65 96.45M148.75 96.45L153.65 91.55" stroke="#1a1a1a" stroke-width="0.92"/>
<path d="M153.25 93.15L158.15 98.05M153.25 98.05L158.15 93.15" stroke="#1a1a1a" stroke-width="0.92"/>
<path d="M155.45 104.95L160.35 109.85M155.45 109.85L160.35 104.95" stroke="#1a1a1a" stroke-width="0.92"/>
<path d="M158.15 107.65L163.05 112.55M158.15 112.55L163.05 107.65" stroke="#1a1a1a" stroke-width="0.92"/>
<path d="M160.85 107.65L165.75 112.55M160.85 112.55L165.75 107.65" stroke="#1a1a1a" stroke-width="0.92"/>
<path d="M181.75 108.05L186.65 112.95M181.75 112.95L186.65 108.05" stroke="#1a1a1a" stroke-width="0.92"/>
<path d="M186.75 110.65L191.65 115.55M186.75 115.55L191.65 110.65" stroke="#1a1a1a" stroke-width="0.92"/>
<path d="M163.55 98.55L168.45 103.45M163.55 103.45L168.45 98.55" stroke="#1a1a1a" stroke-width="0.92"/>
<path d="M165.25 99.55L170.15 104.45M165.25 104.45L170.15 99.55" stroke="#1a1a1a" stroke-width="0.92"/>
<path d="M166.85 100.65L171.75 105.55M166.85 105.55L171.75 100.65" stroke="#1a1a1a" stroke-width="0.92"/>
<path d="M168.45 101.75L173.35 106.65M168.45 106.65L173.35 101.75" stroke="#1a1a1a" stroke-width="0.92"/>
<path d="M170.05 102.65L174.95 107.55M170.05 107.55L174.95 102.65" stroke="#1a1a1a" stroke-width="0.92"/>
<path d="M171.75 103.35L176.65 108.25M171.75 108.25L176.65 103.35" stroke="#1a1a1a" stroke-width="0.92"/>
<path d="M173.35 104.25L178.25 109.15M173.35 109.15L178.25 104.25" stroke="#1a1a1a" stroke-width="0.92"/>
<path d="M174.95 105.05L179.85 109.95M174.95 109.95L179.85 105.05" stroke="#1a1a1a" stroke-width="0.92"/>
<path d="M176.65 105.85L181.55 110.75M176.65 110.75L181.55 105.85" stroke="#1a1a1a" stroke-width="0.92"/>
<path d="M178.25 106.65L183.15 111.55M178.25 111.55L183.15 106.65" stroke="#1a1a1a" stroke-width="0.92"/>
<path d="M153.85 95.35L158.75 100.25M153.85 100.25L158.75 95.35" stroke="#1a1a1a" stroke-width="0.92"/>
<path d="M150.55 102.75L155.45 107.65M150.55 107.65L155.45 102.75" stroke="#1a1a1a" stroke-width="0.92"/>
<path d="M195.15 117.65L200.05 122.55M195.15 122.55L200.05 117.65" stroke="#1a1a1a" stroke-width="0.92"/>
<path d="M207.65 120.35L212.55 125.25M207.65 125.25L212.55 120.35" stroke="#1a1a1a" stroke-width="0.92"/>
<path d="M218.25 127.95L223.15 132.85M218.25 132.85L223.15 127.95" stroke="#1a1a1a" stroke-width="0.92"/>
<path d="M191.25 92.05L196.15 96.95M191.25 96.95L196.15 92.05" stroke="#1a1a1a" stroke-width="0.92"/>
<path d="M193.85 93.65L198.75 98.55M193.85 98.55L198.75 93.65" stroke="#1a1a1a" stroke-width="0.92"/>
<path d="M196.35 97.05L201.25 101.95M196.35 101.95L201.25 97.05" stroke="#1a1a1a" stroke-width="0.92"/>
<path d="M198.65 99.55L203.55 104.45M198.65 104.45L203.55 99.55" stroke="#1a1a1a" stroke-width="0.92"/>
<path d="M200.95 101.15L205.85 106.05M200.95 106.05L205.85 101.15" stroke="#1a1a1a" stroke-width="0.92"/>
<path d="M203.35 102.75L208.25 107.65M203.35 107.65L208.25 102.75" stroke="#1a1a1a" stroke-width="0.92"/>
<path d="M205.25 104.45L210.15 109.35M205.25 109.35L210.15 104.45" stroke="#1a1a1a" stroke-width="0.92"/>
<path d="M209.85 107.35L214.75 112.25M209.85 112.25L214.75 107.35" stroke="#1a1a1a" stroke-width="0.92"/>
<path d="M212.55 109.25L217.45 114.15M212.55 114.15L217.45 109.25" stroke="#1a1a1a" stroke-width="0.92"/>
<path d="M214.95 110.95L219.85 115.85M214.95 115.85L219.85 110.95" stroke="#1a1a1a" stroke-width="0.92"/>
<path d="M216.55 112.75L221.45 117.65M216.55 117.65L221.45 112.75" stroke="#1a1a1a" stroke-width="0.92"/>
<path d="M220.65 115.45L225.55 120.35M220.65 120.35L225.55 115.45" stroke="#1a1a1a" stroke-width="0.92"/>
<path d="M222.85 117.05L227.75 121.95M222.85 121.95L227.75 117.05" stroke="#1a1a1a" stroke-width="0.92"/>
<path d="M225.05 119.25L229.95 124.15M225.05 124.15L229.95 119.25" stroke="#1a1a1a" stroke-width="0.92"/>
<path d="M227.15 121.45L232.05 126.35M227.15 126.35L232.05 121.45" stroke="#1a1a1a" stroke-width="0.92"/>
<path d="M229.35 123.55L234.25 128.45M229.35 128.45L234.25 123.55" stroke="#1a1a1a" stroke-width="0.92"/>
<path d="M234.15 112.05L239.05 116.95M234.15 116.95L239.05 112.05" stroke="#1a1a1a" stroke-width="0.92"/>
<path d="M236.55 113.85L241.45 118.75M236.55 118.75L241.45 113.85" stroke="#1a1a1a" stroke-width="0.92"/>
<path d="M238.95 115.65L243.85 120.55M238.95 120.55L243.85 115.65" stroke="#1a1a1a" stroke-width="0.92"/>
<path d="M241.35 118.05L246.25 122.95M241.35 122.95L246.25 118.05" stroke="#1a1a1a" stroke-width="0.92"/>
<path d="M244.35 121.05L249.25 125.95M244.35 125.95L249.25 121.05" stroke="#1a1a1a" stroke-width="0.92"/>
<path d="M246.85 122.85L251.75 127.75M246.85 127.75L251.75 122.85" stroke="#1a1a1a" stroke-width="0.92"/>
<path d="M249.55 125.15L254.45 130.05M249.55 130.05L254.45 125.15" stroke="#1a1a1a" stroke-width="0.92"/>
<path d="M252.15 127.15L257.05 132.05M252.15 132.05L257.05 127.15" stroke="#1a1a1a" stroke-width="0.92"/>
<path d="M255.15 129.55L260.05 134.45M255.15 134.45L260.05 129.55" stroke="#1a1a1a" stroke-width="0.92"/>
<path d="M257.85 131.55L262.75 136.45M257.85 136.45L262.75 131.55" stroke="#1a1a1a" stroke-width="0.92"/>
<path d="M260.55 133.75L265.45 138.65M260.55 138.65L265.45 133.75" stroke="#1a1a1a" stroke-width="0.92"/>
<path d="M263.05 136.05L267.95 140.95M263.05 140.95L267.95 136.05" stroke="#1a1a1a" stroke-width="0.92"/>
<path d="M265.35 138.85L270.25 143.75M265.35 143.75L270.25 138.85" stroke="#1a1a1a" stroke-width="0.92"/>
<path d="M268.15 141.15L273.05 146.05M268.15 146.05L273.05 141.15" stroke="#1a1a1a" stroke-width="0.92"/>
<path d="M271.15 143.35L276.05 148.25M271.15 148.25L276.05 143.35" stroke="#1a1a1a" stroke-width="0.92"/>
<path d="M274.25 144.85L279.15 149.75M274.25 149.75L279.15 144.85" stroke="#1a1a1a" stroke-width="0.92"/>
<path d="M276.55 145.85L281.45 150.75M276.55 150.75L281.45 145.85" stroke="#1a1a1a" stroke-width="0.92"/>
<path d="M280.25 159.15L285.15 164.05M280.25 164.05L285.15 159.15" stroke="#1a1a1a" stroke-width="0.92"/>
<path d="M283.25 162.95L288.15 167.85M283.25 167.85L288.15 162.95" stroke="#1a1a1a" stroke-width="0.92"/>
<path d="M286.25 165.95L291.15 170.85M286.25 170.85L291.15 165.95" stroke="#1a1a1a" stroke-width="0.92"/>
<path d="M289.25 168.25L294.15 173.15M289.25 173.15L294.15 168.25" stroke="#1a1a1a" stroke-width="0.92"/>
<path d="M292.25 170.45L297.15 175.35M292.25 175.35L297.15 170.45" stroke="#1a1a1a" stroke-width="0.92"/>
<path d="M294.55 171.95L299.45 176.85M294.55 176.85L299.45 171.95" stroke="#1a1a1a" stroke-width="0.92"/>
<circle cx="39.20" cy="47.30" r="1.22" fill="#111"/>
<circle cx="40.90" cy="54.10" r="1.22" fill="#111"/>
<circle cx="44.10" cy="58.30" r="1.22" fill="#111"/>
<circle cx="46.80" cy="61.10" r="1.22" fill="#111"/>
<circle cx="49.60" cy="64.40" r="1.22" fill="#111"/>
<circle cx="52.30" cy="67.70" r="1.22" fill="#111"/>
<circle cx="55.30" cy="70.60" r="1.22" fill="#111"/>
<circle cx="54.80" cy="62.00" r="1.22" fill="#111"/>
<circle cx="58.20" cy="73.30" r="1.22" fill="#111"/>
<circle cx="60.20" cy="74.50" r="1.22" fill="#111"/>
<circle cx="62.90" cy="66.80" r="1.22" fill="#111"/>
<circle cx="65.10" cy="68.40" r="1.22" fill="#111"/>
<circle cx="67.80" cy="70.00" r="1.22" fill="#111"/>
<circle cx="70.20" cy="71.40" r="1.22" fill="#111"/>
<circle cx="75.30" cy="73.80" r="1.22" fill="#111"/>
<circle cx="80.50" cy="76.30" r="1.22" fill="#111"/>
<circle cx="86.00" cy="78.60" r="1.22" fill="#111"/>
<circle cx="73.00" cy="83.50" r="1.22" fill="#111"/>
<circle cx="78.40" cy="85.60" r="1.22" fill="#111"/>
<circle cx="83.30" cy="89.00" r="1.22" fill="#111"/>
<circle cx="88.70" cy="89.00" r="1.22" fill="#111"/>
<circle cx="92.40" cy="70.60" r="1.22" fill="#111"/>
<circle cx="93.30" cy="70.90" r="1.22" fill="#111"/>
<circle cx="94.30" cy="71.20" r="1.22" fill="#111"/>
<circle cx="96.50" cy="82.50" r="1.22" fill="#111"/>
<circle cx="98.80" cy="92.80" r="1.22" fill="#111"/>
<circle cx="101.20" cy="94.00" r="1.22" fill="#111"/>
<circle cx="104.30" cy="85.10" r="1.22" fill="#111"/>
<circle cx="106.70" cy="96.80" r="1.22" fill="#111"/>
<circle cx="110.30" cy="87.60" r="1.22" fill="#111"/>
<circle cx="112.50" cy="88.10" r="1.22" fill="#111"/>
<circle cx="114.60" cy="78.80" r="1.22" fill="#111"/>
<circle cx="116.30" cy="79.60" r="1.22" fill="#111"/>
<circle cx="119.30" cy="90.50" r="1.22" fill="#111"/>
<circle cx="122.20" cy="91.30" r="1.22" fill="#111"/>
<circle cx="125.10" cy="92.40" r="1.22" fill="#111"/>
<circle cx="127.40" cy="105.70" r="1.22" fill="#111"/>
<circle cx="130.10" cy="109.50" r="1.22" fill="#111"/>
<circle cx="132.30" cy="85.10" r="1.22" fill="#111"/>
<circle cx="135.00" cy="97.00" r="1.22" fill="#111"/>
<circle cx="138.20" cy="87.70" r="1.22" fill="#111"/>
<circle cx="140.40" cy="88.60" r="1.22" fill="#111"/>
<circle cx="142.60" cy="100.80" r="1.22" fill="#111"/>
<circle cx="145.40" cy="91.10" r="1.22" fill="#111"/>
<circle cx="147.60" cy="92.10" r="1.22" fill="#111"/>
<circle cx="149.80" cy="93.20" r="1.22" fill="#111"/>
<circle cx="151.20" cy="94.00" r="1.22" fill="#111"/>
<circle cx="155.70" cy="95.60" r="1.22" fill="#111"/>
<circle cx="157.90" cy="107.40" r="1.22" fill="#111"/>
<circle cx="160.60" cy="110.10" r="1.22" fill="#111"/>
<circle cx="163.30" cy="110.10" r="1.22" fill="#111"/>
<circle cx="184.20" cy="110.50" r="1.22" fill="#111"/>
<circle cx="189.20" cy="113.10" r="1.22" fill="#111"/>
<circle cx="166.00" cy="99.50" r="1.22" fill="#111"/>
<circle cx="167.70" cy="100.50" r="1.22" fill="#111"/>
<circle cx="169.30" cy="101.60" r="1.22" fill="#111"/>
<circle cx="170.90" cy="102.70" r="1.22" fill="#111"/>
<circle cx="172.50" cy="103.60" r="1.22" fill="#111"/>
<circle cx="174.20" cy="104.30" r="1.22" fill="#111"/>
<circle cx="175.80" cy="105.20" r="1.22" fill="#111"/>
<circle cx="177.40" cy="106.00" r="1.22" fill="#111"/>
<circle cx="179.10" cy="106.80" r="1.22" fill="#111"/>
<circle cx="180.70" cy="107.60" r="1.22" fill="#111"/>
<circle cx="181.50" cy="86.50" r="1.22" fill="#111"/>
<circle cx="186.50" cy="88.50" r="1.22" fill="#111"/>
<circle cx="191.50" cy="89.80" r="1.22" fill="#111"/>
<circle cx="194.50" cy="91.20" r="1.22" fill="#111"/>
<circle cx="197.60" cy="117.40" r="1.22" fill="#111"/>
<circle cx="210.10" cy="119.00" r="1.22" fill="#111"/>
<circle cx="220.70" cy="126.00" r="1.22" fill="#111"/>
<circle cx="200.00" cy="95.90" r="1.22" fill="#111"/>
<circle cx="202.60" cy="98.30" r="1.22" fill="#111"/>
<circle cx="205.10" cy="100.70" r="1.22" fill="#111"/>
<circle cx="207.60" cy="102.80" r="1.22" fill="#111"/>
<circle cx="212.80" cy="106.50" r="1.22" fill="#111"/>
<circle cx="215.50" cy="108.50" r="1.22" fill="#111"/>
<circle cx="218.20" cy="110.30" r="1.22" fill="#111"/>
<circle cx="223.10" cy="113.90" r="1.22" fill="#111"/>
<circle cx="225.80" cy="116.30" r="1.22" fill="#111"/>
<circle cx="228.50" cy="118.40" r="1.22" fill="#111"/>
<circle cx="230.70" cy="121.70" r="1.22" fill="#111"/>
<circle cx="233.40" cy="119.30" r="1.22" fill="#111"/>
<circle cx="236.60" cy="105.60" r="1.22" fill="#111"/>
<circle cx="239.00" cy="108.90" r="1.22" fill="#111"/>
<circle cx="241.50" cy="110.80" r="1.22" fill="#111"/>
<circle cx="244.00" cy="112.90" r="1.22" fill="#111"/>
<circle cx="246.60" cy="115.00" r="1.22" fill="#111"/>
<circle cx="249.00" cy="117.00" r="1.22" fill="#111"/>
<circle cx="251.80" cy="119.40" r="1.22" fill="#111"/>
<circle cx="254.30" cy="118.90" r="1.22" fill="#111"/>
<circle cx="257.10" cy="122.90" r="1.22" fill="#111"/>
<circle cx="259.50" cy="124.70" r="1.22" fill="#111"/>
<circle cx="261.90" cy="126.50" r="1.22" fill="#111"/>
<circle cx="264.90" cy="128.30" r="1.22" fill="#111"/>
<circle cx="267.40" cy="130.40" r="1.22" fill="#111"/>
<circle cx="270.10" cy="132.50" r="1.22" fill="#111"/>
<circle cx="272.90" cy="134.50" r="1.22" fill="#111"/>
<circle cx="275.20" cy="136.50" r="1.22" fill="#111"/>
<circle cx="277.90" cy="139.20" r="1.22" fill="#111"/>
<circle cx="280.40" cy="131.90" r="1.22" fill="#111"/>
<circle cx="282.70" cy="145.80" r="1.22" fill="#111"/>
<circle cx="285.70" cy="148.80" r="1.22" fill="#111"/>
<circle cx="288.00" cy="151.10" r="1.22" fill="#111"/>
<circle cx="290.20" cy="152.60" r="1.22" fill="#111"/>
<circle cx="293.20" cy="154.80" r="1.22" fill="#111"/>
<circle cx="296.20" cy="157.10" r="1.22" fill="#111"/>
<path d="M36.50 72.20H42.50M39.50 69.20V75.20" stroke="#333" stroke-width="0.85"/>
<path d="M39.09 82.09H45.09M42.09 79.09V85.09" stroke="#333" stroke-width="0.85"/>
<path d="M41.68 87.24H47.68M44.68 84.24V90.24" stroke="#333" stroke-width="0.85"/>
<path d="M44.27 91.25H50.27M47.27 88.25V94.25" stroke="#333" stroke-width="0.85"/>
<path d="M46.86 94.63H52.86M49.86 91.63V97.63" stroke="#333" stroke-width="0.85"/>
<path d="M49.45 97.72H55.45M52.45 94.72V100.72" stroke="#333" stroke-width="0.85"/>
<path d="M52.04 100.05H58.04M55.04 97.05V103.05" stroke="#333" stroke-width="0.85"/>
<path d="M54.63 102.06H60.63M57.63 99.06V105.06" stroke="#333" stroke-width="0.85"/>
<path d="M57.22 103.80H63.22M60.22 100.80V106.80" stroke="#333" stroke-width="0.85"/>
<path d="M59.81 105.53H65.81M62.81 102.53V108.53" stroke="#333" stroke-width="0.85"/>
<path d="M62.40 107.22H68.40M65.40 104.22V110.22" stroke="#333" stroke-width="0.85"/>
<path d="M64.99 108.76H70.99M67.99 105.76V111.76" stroke="#333" stroke-width="0.85"/>
<path d="M67.58 110.08H73.58M70.58 107.08V113.08" stroke="#333" stroke-width="0.85"/>
<path d="M70.17 111.37H76.17M73.17 108.37V114.37" stroke="#333" stroke-width="0.85"/>
<path d="M72.76 112.64H78.76M75.76 109.64V115.64" stroke="#333" stroke-width="0.85"/>
<path d="M75.35 113.92H81.35M78.35 110.92V116.92" stroke="#333" stroke-width="0.85"/>
<path d="M77.94 115.22H83.94M80.94 112.22V118.22" stroke="#333" stroke-width="0.85"/>
<path d="M80.53 116.37H86.53M83.53 113.37V119.37" stroke="#333" stroke-width="0.85"/>
<path d="M83.12 117.48H89.12M86.12 114.48V120.48" stroke="#333" stroke-width="0.85"/>
<path d="M85.71 118.54H91.71M88.71 115.54V121.54" stroke="#333" stroke-width="0.85"/>
<path d="M88.30 119.60H94.30M91.30 116.60V122.60" stroke="#333" stroke-width="0.85"/>
<path d="M90.89 120.71H96.89M93.89 117.71V123.71" stroke="#333" stroke-width="0.85"/>
<path d="M93.48 121.79H99.48M96.48 118.79V124.79" stroke="#333" stroke-width="0.85"/>
<path d="M96.07 122.66H102.07M99.07 119.66V125.66" stroke="#333" stroke-width="0.85"/>
<path d="M98.66 123.52H104.66M101.66 120.52V126.52" stroke="#333" stroke-width="0.85"/>
<path d="M101.25 124.39H107.25M104.25 121.39V127.39" stroke="#333" stroke-width="0.85"/>
<path d="M103.84 125.26H109.84M106.84 122.26V128.26" stroke="#333" stroke-width="0.85"/>
<path d="M106.43 126.13H112.43M109.43 123.13V129.13" stroke="#333" stroke-width="0.85"/>
<path d="M109.02 127.01H115.02M112.02 124.01V130.01" stroke="#333" stroke-width="0.85"/>
<path d="M111.61 127.91H117.61M114.61 124.91V130.91" stroke="#333" stroke-width="0.85"/>
<path d="M114.20 128.82H120.20M117.20 125.82V131.82" stroke="#333" stroke-width="0.85"/>
<path d="M116.79 129.74H122.79M119.79 126.74V132.74" stroke="#333" stroke-width="0.85"/>
<path d="M119.38 130.65H125.38M122.38 127.65V133.65" stroke="#333" stroke-width="0.85"/>
<path d="M121.97 131.56H127.97M124.97 128.56V134.56" stroke="#333" stroke-width="0.85"/>
<path d="M124.56 132.47H130.56M127.56 129.47V135.47" stroke="#333" stroke-width="0.85"/>
<path d="M127.15 133.54H133.15M130.15 130.54V136.54" stroke="#333" stroke-width="0.85"/>
<path d="M129.74 134.70H135.74M132.74 131.70V137.70" stroke="#333" stroke-width="0.85"/>
<path d="M132.33 135.86H138.33M135.33 132.86V138.86" stroke="#333" stroke-width="0.85"/>
<path d="M134.92 137.02H140.92M137.92 134.02V140.02" stroke="#333" stroke-width="0.85"/>
<path d="M137.51 138.18H143.51M140.51 135.18V141.18" stroke="#333" stroke-width="0.85"/>
<path d="M140.10 139.34H146.10M143.10 136.34V142.34" stroke="#333" stroke-width="0.85"/>
<path d="M142.69 140.39H148.69M145.69 137.39V143.39" stroke="#333" stroke-width="0.85"/>
<path d="M145.28 141.24H151.28M148.28 138.24V144.24" stroke="#333" stroke-width="0.85"/>
<path d="M147.87 142.16H153.87M150.87 139.16V145.16" stroke="#333" stroke-width="0.85"/>
<path d="M150.46 143.65H156.46M153.46 140.65V146.65" stroke="#333" stroke-width="0.85"/>
<path d="M153.05 145.14H159.05M156.05 142.14V148.14" stroke="#333" stroke-width="0.85"/>
<path d="M155.64 146.63H161.64M158.64 143.63V149.63" stroke="#333" stroke-width="0.85"/>
<path d="M158.23 148.12H164.23M161.23 145.12V151.12" stroke="#333" stroke-width="0.85"/>
<path d="M160.82 149.68H166.82M163.82 146.68V152.68" stroke="#333" stroke-width="0.85"/>
<path d="M163.41 151.25H169.41M166.41 148.25V154.25" stroke="#333" stroke-width="0.85"/>
<path d="M166.00 152.82H172.00M169.00 149.82V155.82" stroke="#333" stroke-width="0.85"/>
<path d="M168.59 154.38H174.59M171.59 151.38V157.38" stroke="#333" stroke-width="0.85"/>
<path d="M171.18 155.94H177.18M174.18 152.94V158.94" stroke="#333" stroke-width="0.85"/>
<path d="M173.77 157.29H179.77M176.77 154.29V160.29" stroke="#333" stroke-width="0.85"/>
<path d="M176.36 158.63H182.36M179.36 155.63V161.63" stroke="#333" stroke-width="0.85"/>
<path d="M178.95 159.98H184.95M181.95 156.98V162.98" stroke="#333" stroke-width="0.85"/>
<path d="M181.54 161.33H187.54M184.54 158.33V164.33" stroke="#333" stroke-width="0.85"/>
<path d="M184.13 162.72H190.13M187.13 159.72V165.72" stroke="#333" stroke-width="0.85"/>
<path d="M186.72 164.42H192.72M189.72 161.42V167.42" stroke="#333" stroke-width="0.85"/>
<path d="M189.31 166.13H195.31M192.31 163.13V169.13" stroke="#333" stroke-width="0.85"/>
<path d="M191.90 167.83H197.90M194.90 164.83V170.83" stroke="#333" stroke-width="0.85"/>
<path d="M194.49 170.00H200.49M197.49 167.00V173.00" stroke="#333" stroke-width="0.85"/>
<path d="M197.08 172.18H203.08M200.08 169.18V175.18" stroke="#333" stroke-width="0.85"/>
<path d="M199.67 174.46H205.67M202.67 171.46V177.46" stroke="#333" stroke-width="0.85"/>
<path d="M202.26 177.00H208.26M205.26 174.00V180.00" stroke="#333" stroke-width="0.85"/>
<path d="M204.85 179.55H210.85M207.85 176.55V182.55" stroke="#333" stroke-width="0.85"/>
<path d="M207.44 182.14H213.44M210.44 179.14V185.14" stroke="#333" stroke-width="0.85"/>
<path d="M210.03 184.72H216.03M213.03 181.72V187.72" stroke="#333" stroke-width="0.85"/>
<path d="M212.62 186.75H218.62M215.62 183.75V189.75" stroke="#333" stroke-width="0.85"/>
<path d="M215.21 188.77H221.21M218.21 185.77V191.77" stroke="#333" stroke-width="0.85"/>
<path d="M217.80 190.87H223.80M220.80 187.87V193.87" stroke="#333" stroke-width="0.85"/>
<path d="M220.39 192.98H226.39M223.39 189.98V195.98" stroke="#333" stroke-width="0.85"/>
<path d="M222.98 195.11H228.98M225.98 192.11V198.11" stroke="#333" stroke-width="0.85"/>
<path d="M225.57 197.24H231.57M228.57 194.24V200.24" stroke="#333" stroke-width="0.85"/>
<path d="M228.16 199.37H234.16M231.16 196.37V202.37" stroke="#333" stroke-width="0.85"/>
<path d="M230.75 207.50H236.75M233.75 204.50V210.50" stroke="#333" stroke-width="0.85"/>
<path d="M233.34 211.66H239.34M236.34 208.66V214.66" stroke="#333" stroke-width="0.85"/>
<path d="M235.93 215.30H241.93M238.93 212.30V218.30" stroke="#333" stroke-width="0.85"/>
<path d="M238.52 217.38H244.52M241.52 214.38V220.38" stroke="#333" stroke-width="0.85"/>
<path d="M241.11 219.44H247.11M244.11 216.44V222.44" stroke="#333" stroke-width="0.85"/>
<path d="M243.70 221.52H249.70M246.70 218.52V224.52" stroke="#333" stroke-width="0.85"/>
<path d="M246.29 223.61H252.29M249.29 220.61V226.61" stroke="#333" stroke-width="0.85"/>
<path d="M248.88 225.69H254.88M251.88 222.69V228.69" stroke="#333" stroke-width="0.85"/>
<path d="M251.47 227.58H257.47M254.47 224.58V230.58" stroke="#333" stroke-width="0.85"/>
<path d="M254.06 229.12H260.06M257.06 226.12V232.12" stroke="#333" stroke-width="0.85"/>
<path d="M256.65 231.17H262.65M259.65 228.17V234.17" stroke="#333" stroke-width="0.85"/>
<path d="M259.24 233.05H265.24M262.24 230.05V236.05" stroke="#333" stroke-width="0.85"/>
<path d="M261.83 234.76H267.83M264.83 231.76V237.76" stroke="#333" stroke-width="0.85"/>
<path d="M264.42 236.97H270.42M267.42 233.97V239.97" stroke="#333" stroke-width="0.85"/>
<path d="M267.01 239.28H273.01M270.01 236.28V242.28" stroke="#333" stroke-width="0.85"/>
<path d="M269.60 241.66H275.60M272.60 238.66V244.66" stroke="#333" stroke-width="0.85"/>
<path d="M272.19 244.06H278.19M275.19 241.06V247.06" stroke="#333" stroke-width="0.85"/>
<path d="M274.78 246.40H280.78M277.78 243.40V249.40" stroke="#333" stroke-width="0.85"/>
<path d="M277.37 266.80H283.37M280.37 263.80V269.80" stroke="#333" stroke-width="0.85"/>
<path d="M279.96 287.20H285.96M282.96 284.20V290.20" stroke="#333" stroke-width="0.85"/>
<path d="M282.55 291.20H288.55M285.55 288.20V294.20" stroke="#333" stroke-width="0.85"/>
<path d="M285.14 294.10H291.14M288.14 291.10V297.10" stroke="#333" stroke-width="0.85"/>
<path d="M287.73 295.60H293.73M290.73 292.60V298.60" stroke="#333" stroke-width="0.85"/>
<path d="M290.32 297.40H296.32M293.32 294.40V300.40" stroke="#333" stroke-width="0.85"/>
<path d="M292.91 299.00H298.91M295.91 296.00V302.00" stroke="#333" stroke-width="0.85"/>
<rect x="534.5" y="29.5" width="77.0" height="55.0" fill="#fff" stroke="#505050" stroke-width="1"/>
<circle cx="556.60" cy="37.30" r="1.22" fill="#111"/>
<circle cx="556.60" cy="50.60" r="3.2" fill="none" stroke="#2a2a2a" stroke-width="0.9"/>
<path d="M553.60 63.90H559.60M556.60 60.90V66.90" stroke="#333" stroke-width="0.85"/>
<path d="M554.35 74.95L558.85 79.45M554.35 79.45L558.85 74.95" stroke="#1a1a1a" stroke-width="0.92"/>
<text x="575.6" y="40.90" class="t">Subj A</text>
<text x="575.6" y="54.20" class="t">Subj B</text>
<text x="575.6" y="67.50" class="t">Subj C</text>
<text x="575.6" y="80.80" class="t">Subj D</text>
</svg></body></html>
